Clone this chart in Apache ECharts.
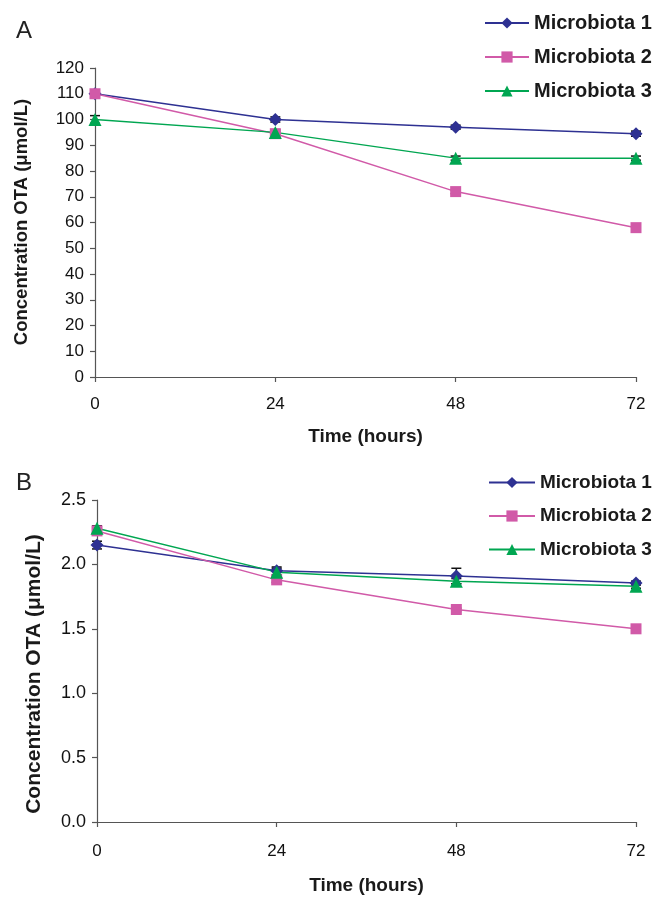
<!DOCTYPE html>
<html><head><meta charset="utf-8">
<script src="https://cdn.jsdelivr.net/npm/echarts@6/dist/echarts.min.js"></script>
<style>html,body{margin:0;padding:0;background:#fff}#c{width:659px;height:897px}</style>
</head><body><div id="c"></div>
<script>
const hours = [0, 24, 48, 72];
const seriesNames = ['Microbiota 1', 'Microbiota 2', 'Microbiota 3'];
// Panel A values (µmol/L)
const a_m1 = [110, 100, 97, 94.5];
const a_m2 = [110, 94.5, 72, 58];
const a_m3 = [100, 95, 85, 85];
const a_m1_err = [1.2, 1.0, 0.8, 1.0];
const a_m2_err = [1.0, 0.8, 0.8, 0.8];
const a_m3_err = [1.5, 1.0, 0.8, 0.8];
// Panel B values (µmol/L)
const b_m1 = [2.15, 1.95, 1.91, 1.855];
const b_m2 = [2.26, 1.88, 1.65, 1.50];
const b_m3 = [2.28, 1.94, 1.87, 1.83];
const b_m1_err = [0.03, 0.03, 0.06, 0.015];
const b_m2_err = [0.02, 0.02, 0.01, 0.01];
const b_m3_err = [0.02, 0.03, 0.02, 0.015];
const a_yTicks = [0, 120, 10];
const b_yTicks = [0, 2.5, 0.5];
const xTicks = [0, 72, 24];
const yTitle = 'Concentration OTA (μmol/L)';
const xTitle = 'Time (hours)';

const colors = ['#2e3192', '#d15aa8', '#00a651'];
const symbols = ['diamond', 'rect', 'triangle'];
const symSizes = [13, 11, 13];
const FONT = 'Liberation Sans, Arial, sans-serif';

function pairs(vals){ return hours.map((h,i)=>[h, vals[i]]); }
function errData(vals, errs){ return hours.map((h,i)=>[h, vals[i]-errs[i], vals[i]+errs[i]]); }

function errSeries(gi, vals, errs){
  return {
    type: 'custom', xAxisIndex: gi, yAxisIndex: gi, z: 1, silent: true,
    data: errData(vals, errs),
    renderItem: function(params, api){
      const x = api.coord([api.value(0), api.value(1)])[0];
      const lo = api.coord([api.value(0), api.value(1)])[1];
      const hi = api.coord([api.value(0), api.value(2)])[1];
      const w = 5;
      const st = {stroke:'#111', lineWidth:1.5};
      return {type:'group', children:[
        {type:'line', shape:{x1:x,y1:lo,x2:x,y2:hi}, style:st},
        {type:'line', shape:{x1:x-w,y1:hi,x2:x+w,y2:hi}, style:st},
        {type:'line', shape:{x1:x-w,y1:lo,x2:x+w,y2:lo}, style:st}
      ]};
    }
  };
}

function lineSeries(gi, k, vals){
  return {
    name: seriesNames[k], type:'line', xAxisIndex: gi, yAxisIndex: gi, z: 3,
    data: pairs(vals), symbol: symbols[k], symbolSize: symSizes[k],
    lineStyle:{color: colors[k], width: 1.5}, itemStyle:{color: colors[k]},
    animation:false
  };
}

const axisLine = {show:true, lineStyle:{color:'#555', width:1.2}};
const axisTick = {show:true, length:5, lineStyle:{color:'#555', width:1.2}};

function xAxis(gi, margin, gap){
  return {type:'value', gridIndex:gi, min:xTicks[0], max:xTicks[1], interval:xTicks[2],
    name:xTitle, nameLocation:'middle', nameGap:gap,
    nameTextStyle:{fontFamily:FONT, fontWeight:'bold', fontSize:19, color:'#1a1a1a'},
    axisLine, axisTick, splitLine:{show:false},
    axisLabel:{fontFamily:FONT, fontSize:17, color:'#111', margin:margin}};
}
function yAxis(gi, t, fs, dec){
  return {type:'value', gridIndex:gi, min:t[0], max:t[1], interval:t[2],
    axisLine, axisTick, splitLine:{show:false},
    axisLabel:{fontFamily:FONT, fontSize:fs, color:'#111', margin:11,
      formatter: v => dec ? v.toFixed(1) : String(v)}};
}

const chart = echarts.init(document.getElementById('c'), null, {renderer:'canvas'});
chart.setOption({
  animation:false,
  color: colors,
  title:[
    {text:'A', left:11, top:14, textStyle:{fontFamily:FONT, fontSize:24, fontWeight:'normal', color:'#222'}},
    {text:'B', left:11, top:466, textStyle:{fontFamily:FONT, fontSize:24, fontWeight:'normal', color:'#222'}}
  ],
  legend:[
    {data:seriesNames, orient:'vertical', left:484, top:13, padding:0, itemWidth:44, itemHeight:14, itemGap:14,
     textStyle:{fontFamily:FONT, fontWeight:'bold', fontSize:20, color:'#1a1a1a'}},
    {data:seriesNames, orient:'vertical', left:488, top:473, padding:0, itemWidth:46, itemHeight:14, itemGap:14.5,
     textStyle:{fontFamily:FONT, fontWeight:'bold', fontSize:19, color:'#1a1a1a'}}
  ],
  graphic:[
    {type:'text', x:22, y:222, rotation:Math.PI/2,
     style:{text:yTitle, fontFamily:FONT, fontWeight:'bold', fontSize:18.5, fill:'#1a1a1a', align:'center', verticalAlign:'middle'}},
    {type:'text', x:34, y:674, rotation:Math.PI/2,
     style:{text:yTitle, fontFamily:FONT, fontWeight:'bold', fontSize:21, fill:'#1a1a1a', align:'center', verticalAlign:'middle'}}
  ],
  grid:[
    {left:95, top:68, width:541, height:309, outerBoundsMode:'none', containLabel:false},
    {left:97, top:500, width:539, height:322, outerBoundsMode:'none', containLabel:false}
  ],
  xAxis:[xAxis(0,19,50), xAxis(1,21,54)],
  yAxis:[yAxis(0,a_yTicks,17,false), yAxis(1,b_yTicks,18,true)],
  series:[
    errSeries(0,a_m1,a_m1_err), errSeries(0,a_m2,a_m2_err), errSeries(0,a_m3,a_m3_err),
    lineSeries(0,0,a_m1), lineSeries(0,1,a_m2), lineSeries(0,2,a_m3),
    errSeries(1,b_m1,b_m1_err), errSeries(1,b_m2,b_m2_err), errSeries(1,b_m3,b_m3_err),
    lineSeries(1,0,b_m1), lineSeries(1,1,b_m2), lineSeries(1,2,b_m3)
  ]
});
</script></body></html>
